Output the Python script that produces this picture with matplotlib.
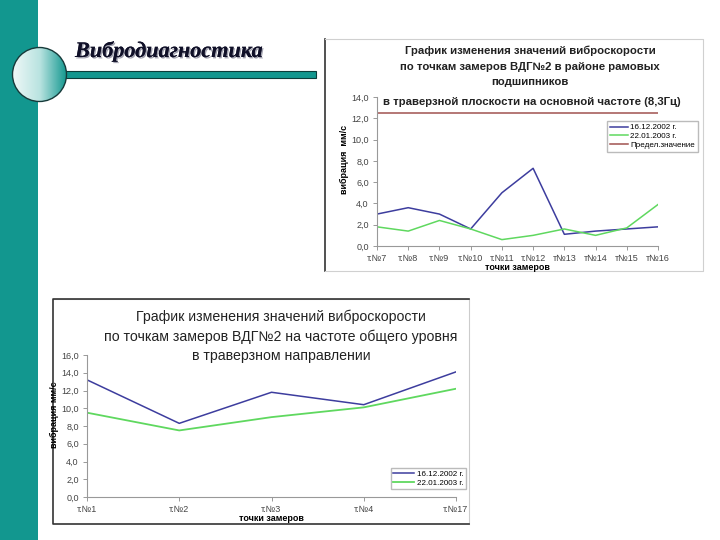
import numpy as np
import matplotlib
matplotlib.use("Agg")
import matplotlib.pyplot as plt
from matplotlib.patches import Rectangle, Circle
from matplotlib.colors import LinearSegmentedColormap
from matplotlib.ticker import FuncFormatter, MultipleLocator
import matplotlib.patheffects as pe

plt.rcParams['font.family'] = ['Liberation Sans', 'DejaVu Sans']

# top chart: points 7..16
top_points = ['т.№7', 'т.№8', 'т.№9', 'т.№10', 'т.№11', 'т.№12', 'т№13', 'т№14', 'т№15', 'т№16']
top_2002 = [3.0, 3.6, 3.0, 1.6, 5.0, 7.3, 1.1, 1.4, 1.6, 1.8]
top_2003 = [1.8, 1.4, 2.4, 1.6, 0.6, 1.0, 1.6, 1.0, 1.7, 3.9]
top_limit = [12.5] * len(top_points)

# bottom chart: points 1..4, 17
bot_points = ['т.№1', 'т.№2', 'т.№3', 'т.№4', 'т.№17']
bot_2002 = [13.2, 8.3, 11.8, 10.4, 14.1]
bot_2003 = [9.5, 7.5, 9.0, 10.1, 12.2]

series_names = ['16.12.2002 г.', '22.01.2003 г.', 'Предел.значение']
c_blue = '#3d3d9e'
c_green = '#5fd85f'
c_red = '#a0524f'
teal = '#12978f'

W, H = 720, 540
fig = plt.figure(figsize=(7.2, 5.4), dpi=100)


def px_axes(left, top, right, bottom):
    # convert pixel box to figure fraction
    return fig.add_axes([left / W, 1 - bottom / H, (right - left) / W, (bottom - top) / H])


# slide decoration
bg = fig.add_axes([0, 0, 1, 1], zorder=0)
bg.set_xlim(0, W)
bg.set_ylim(H, 0)
bg.axis('off')
bg.add_patch(Rectangle((0, 0), 38, H, color=teal, lw=0))
bg.add_patch(Rectangle((62, 71), 254, 7, facecolor=teal, edgecolor='#0b3d3a', lw=0.8))
grad = LinearSegmentedColormap.from_list('g', ['#eef8f7', '#b9e3e0', teal])
img = bg.imshow(np.linspace(0, 1, 200)[None, :], cmap=grad, aspect='auto',
                extent=(12.5, 66.5, 101.5, 47.5), zorder=2)
circ = Circle((39.5, 74.5), 27, transform=bg.transData, facecolor='none')
bg.add_patch(circ)
img.set_clip_path(circ)
bg.add_patch(Circle((39.5, 74.5), 27, facecolor='none', edgecolor='#163a3a', lw=1.0, zorder=3))
bg.text(75, 57, 'Вибродиагностика', family='Liberation Serif', fontsize=16,
        fontweight='bold', style='italic', color='#101028', va='baseline', ha='left',
        path_effects=[pe.withSimplePatchShadow(offset=(1.0, -1.0), shadow_rgbFace='#8a8a9a', alpha=0.8),
                      pe.Normal()])

# chart frames
bg.plot([325, 325], [39, 271], color='#333333', lw=1.2)
bg.plot([325, 703, 703, 325], [39, 39, 271, 271], color='#d0d0d0', lw=0.8)
bg.plot([53, 469, 469], [299, 299, 524], color='#cccccc', lw=0.8)
bg.plot([469, 53, 53, 469], [524, 524, 299, 299], color='#333333', lw=1.2)

fmt = FuncFormatter(lambda v, _: f"{v:.1f}".replace('.', ','))


def style_axes(ax, ymax):
    ax.set_facecolor('none')
    ax.set_ylim(0, ymax)
    ax.yaxis.set_major_locator(MultipleLocator(2))
    ax.yaxis.set_major_formatter(fmt)
    for s in ['top', 'right']:
        ax.spines[s].set_visible(False)
    for s in ['left', 'bottom']:
        ax.spines[s].set_color('#999999')
        ax.spines[s].set_linewidth(0.8)
    ax.tick_params(axis='both', direction='out', length=3, width=0.7, color='#999999',
                   labelsize=6.5, labelcolor='#444444', pad=3)


# top chart
ax1 = px_axes(377, 97, 658, 246)
x1 = np.arange(len(top_points))
l1, = ax1.plot(x1, top_2002, color=c_blue, lw=1.1)
l2, = ax1.plot(x1, top_2003, color=c_green, lw=1.1)
l3, = ax1.plot(x1, top_limit, color=c_red, lw=1.1)
ax1.set_xlim(0, len(top_points) - 1)
ax1.set_xticks(x1)
ax1.set_xticklabels(top_points)
style_axes(ax1, 14)
ax1.set_ylabel('вибрация  мм/с', fontsize=6.5, fontweight='bold')
ax1.yaxis.set_label_coords(-0.1, 0.58)
ax1.set_xlabel('точки замеров', fontsize=6.5, fontweight='bold', labelpad=0)
fig.text(530 / W, 1 - 46 / H,
         'График изменения значений виброскорости\nпо точкам замеров ВДГ№2 в районе рамовых\n'
         'подшипников',
         ha='center', va='top', fontsize=8.2, fontweight='bold', color='#222222', linespacing=1.65)
fig.text(532 / W, 1 - 102 / H,
         'в траверзной плоскости на основной частоте (8,3Гц)',
         ha='center', va='center', fontsize=8.2, fontweight='bold', color='#222222')
fig.legend([l1, l2, l3], series_names, loc='upper left',
           bbox_to_anchor=(607 / W, 1 - 121 / H), fontsize=5.8, frameon=True, fancybox=False,
           edgecolor='#aaaaaa', handlelength=2.2, handletextpad=0.3, borderpad=0.35,
           labelspacing=0.15, borderaxespad=0)

# bottom chart
ax2 = px_axes(87, 355, 456, 497)
x2 = np.arange(len(bot_points))
m1, = ax2.plot(x2, bot_2002, color=c_blue, lw=1.1)
m2, = ax2.plot(x2, bot_2003, color=c_green, lw=1.3)
ax2.set_xlim(0, len(bot_points) - 1)
ax2.set_xticks(x2)
ax2.set_xticklabels(bot_points)
style_axes(ax2, 16)
ax2.set_ylabel('вибрация мм/с', fontsize=6.5, fontweight='bold')
ax2.yaxis.set_label_coords(-0.075, 0.58)
ax2.set_xlabel('точки замеров', fontsize=6.5, fontweight='bold', labelpad=0)
fig.text(281 / W, 1 - 310 / H,
         'График изменения значений виброскорости\nпо точкам замеров ВДГ№2 на частоте общего уровня\n'
         'в траверзном направлении',
         ha='center', va='top', fontsize=10.2, color='#222222', linespacing=1.45)
fig.legend([m1, m2], series_names[:2], loc='upper left',
           bbox_to_anchor=(391 / W, 1 - 468 / H), fontsize=5.8, frameon=True, fancybox=False,
           edgecolor='#aaaaaa', handlelength=2.6, handletextpad=0.3, borderpad=0.3,
           labelspacing=0.15, borderaxespad=0)

fig.savefig('out.png', dpi=100)
